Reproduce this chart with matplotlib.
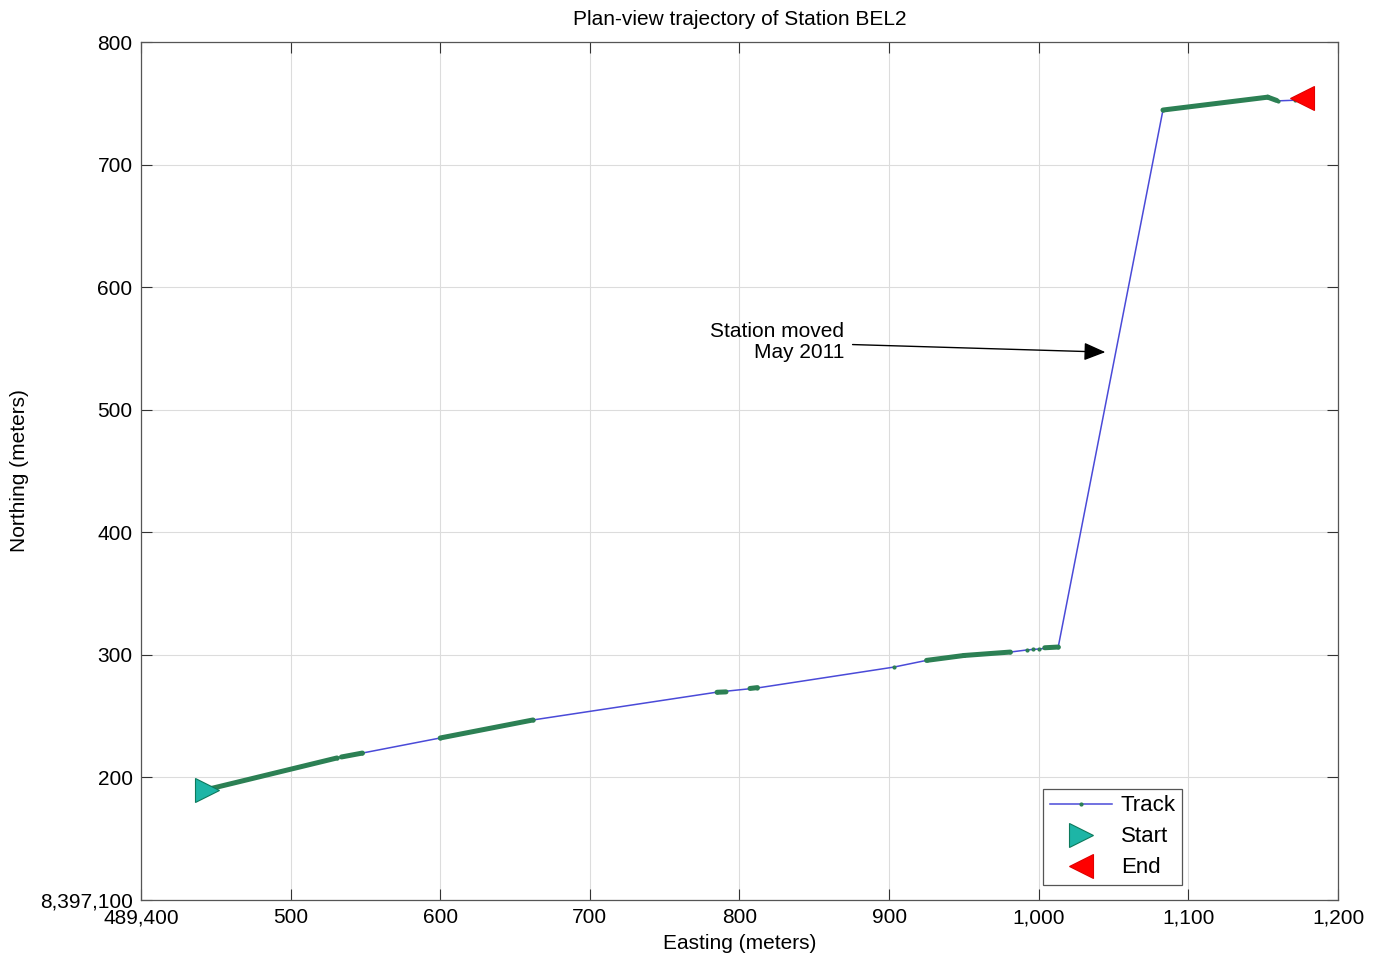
import matplotlib
matplotlib.use("Agg")
import matplotlib.pyplot as plt
from matplotlib.ticker import FuncFormatter, MultipleLocator

plt.rcParams['font.family'] = ['Liberation Sans', 'DejaVu Sans']

# UTM origin for the local offsets below (meters)
EAST0 = 489000
NORTH0 = 8397000

# Track vertices, offsets from the origin (meters)
track_east = [444, 531, 548, 600, 662, 785, 812, 903, 925, 950, 981, 992, 996, 1000, 1013,
              1083, 1153, 1160, 1171]
track_north = [190.0, 215.9, 219.9, 232.2, 246.9, 269.6, 273.0, 290.0, 295.5, 299.5, 302.3,
               304.0, 304.4, 304.8, 306.4, 744.5, 755.0, 752.0, 752.5]

# Runs of densely spaced fixes along the track: (east0, north0, east1, north1)
dense_runs = [
    (447, 191.0, 531, 215.9),
    (534, 216.7, 548, 219.9),
    (600, 232.2, 662, 246.9),
    (785, 269.5, 791, 269.8),
    (807, 272.6, 812, 273.3),
    (925, 295.5, 950, 299.5),
    (950, 299.5, 981, 302.3),
    (1004, 305.8, 1013, 306.4),
    (1083, 744.5, 1153, 755.0),
    (1153, 755.0, 1159, 752.3),
]

start_pt = (444, 190)
end_pt = (1176, 754)

fig = plt.figure(figsize=(13.79, 9.59), dpi=100)
ax = fig.add_axes([0.1022, 0.0615, 0.8681, 0.8947])

blue = '#4a4ad8'
green = '#2c8054'

ax.plot([EAST0 + e for e in track_east], [NORTH0 + n for n in track_north],
        color=blue, lw=1.1, marker='.', ms=4, mfc=green, mec=green, zorder=3,
        label='Track')
for e0, n0, e1, n1 in dense_runs:
    ax.plot([EAST0 + e0, EAST0 + e1], [NORTH0 + n0, NORTH0 + n1],
            color=green, lw=3.6, solid_capstyle='round', zorder=4)

ax.plot(EAST0 + start_pt[0], NORTH0 + start_pt[1], linestyle='none', marker='>', ms=17,
        mfc='#1db5a6', mec='#0c7a5c', mew=0.8, zorder=5, label='Start')
ax.plot(EAST0 + end_pt[0], NORTH0 + end_pt[1], linestyle='none', marker='<', ms=17,
        mfc='#ff0000', mec='#e00000', mew=0.8, zorder=5, label='End')

ax.annotate('Station moved\nMay 2011',
            xy=(EAST0 + 1044.5, NORTH0 + 547), xytext=(EAST0 + 870, NORTH0 + 555),
            ha='right', va='center', multialignment='right', fontsize=15,
            linespacing=1.15,
            arrowprops=dict(arrowstyle='-|>,head_length=0.6,head_width=0.25',
                            color='black', lw=1.0,
                            mutation_scale=22, shrinkA=4, shrinkB=0))

ax.set_xlim(EAST0 + 400, EAST0 + 1200)
ax.set_ylim(NORTH0 + 100, NORTH0 + 800)
ax.xaxis.set_major_locator(MultipleLocator(100))
ax.yaxis.set_major_locator(MultipleLocator(100))


def east_fmt(v, pos):
    if abs(v - (EAST0 + 400)) < 1e-6:
        return f'{v:,.0f}'
    return f'{v - EAST0:,.0f}'


def north_fmt(v, pos):
    if abs(v - (NORTH0 + 100)) < 1e-6:
        return f'{v:,.0f}'
    return f'{v - NORTH0:,.0f}'


ax.xaxis.set_major_formatter(FuncFormatter(east_fmt))
ax.yaxis.set_major_formatter(FuncFormatter(north_fmt))

ax.tick_params(direction='in', length=8, width=0.8, top=True, right=True,
               labelsize=15, colors='#333333', labelcolor='black', pad=6)
ax.grid(True, color='#dcdcdc', lw=0.8)
ax.set_axisbelow(True)
for s in ax.spines.values():
    s.set_color('#555555')
    s.set_linewidth(0.9)

ax.set_title('Plan-view trajectory of Station BEL2', fontsize=15, pad=12.5)
ax.set_xlabel('Easting (meters)', fontsize=15, labelpad=5)
ax.set_ylabel('Northing (meters)', fontsize=15, labelpad=8)

leg = ax.legend(loc='lower right', bbox_to_anchor=(0.870, 0.0175), fontsize=16,
                fancybox=False, framealpha=1, edgecolor='#555555', handlelength=2.8,
                numpoints=1, borderpad=0.3, labelspacing=0.45, handletextpad=0.4,
                borderaxespad=0)
leg.get_frame().set_linewidth(0.9)

fig.savefig('out.png', dpi=100)
